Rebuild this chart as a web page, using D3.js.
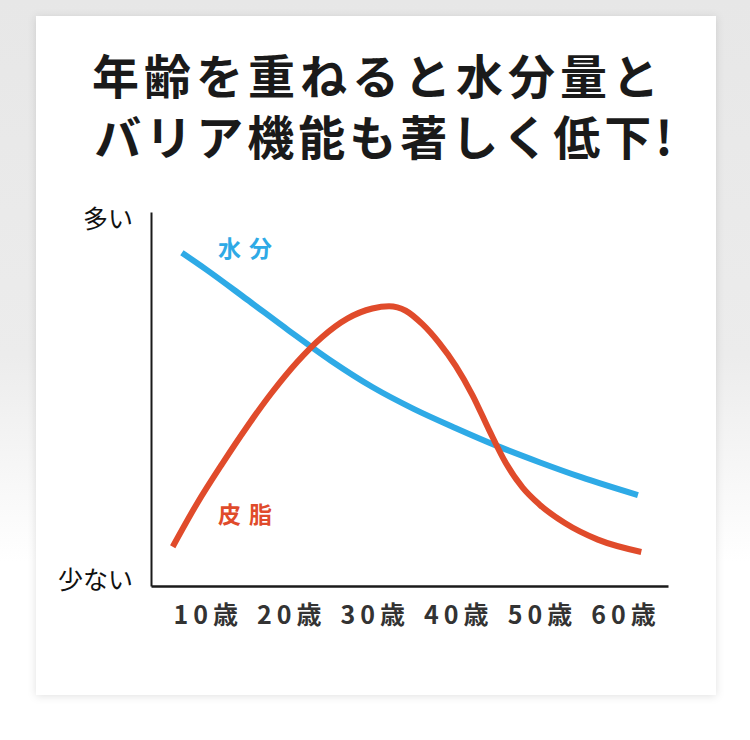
<!DOCTYPE html>
<html lang="ja">
<head>
<meta charset="utf-8">
<script src="https://cdn.jsdelivr.net/npm/d3@7"></script>
<style>
  html, body { margin: 0; padding: 0; background: #fff; }
  svg { display: block; }
  text { font-family: "Noto Sans CJK JP", "Noto Sans", sans-serif; }
</style>
</head>
<body>
<div id="chart"></div>
<script>
// title lines
const titleLines = ["年齢を重ねると水分量と", "バリア機能も著しく低下!"];

// x categories (age)
const ageTicks = [10, 20, 30, 40, 50, 60];
const ageSuffix = "歳";

// y axis end labels
const levelTicks = [1.5, 98];
const levelLabels = ["少ない", "多い"];

// 水分 (moisture) curve
const waterAges   = [7.2, 10, 15, 20, 25, 30, 35, 40, 45, 50, 55, 61.8];
const waterValues = [89.1, 84.8, 76.6, 68.3, 60.3, 53.2, 47.3, 42.2, 37.4, 33.1, 29.1, 24.3];

// 皮脂 (sebum) curve
const sebumAges   = [6.1, 9, 12, 15, 18, 21, 24, 27, 30, 32, 34, 36, 38, 40, 42, 44, 46, 48, 50, 53, 57, 62.2];
const sebumValues = [10.5, 22.0, 32.6, 42.6, 51.8, 59.9, 66.6, 71.5, 74.2, 74.8, 73.6, 70.0, 65.0, 58.8, 51.0, 41.6, 32.8, 26.3, 21.8, 16.9, 12.4, 9.1];

const seriesNames = ["水分", "皮脂"];

const W = 750, H = 740;
const blue = "#2eaae6", red = "#e04b2b";

const svg = d3.select("#chart").append("svg").attr("width", W).attr("height", H);
const defs = svg.append("defs");

const bg = defs.append("linearGradient").attr("id", "bg").attr("x1", 0).attr("y1", 0).attr("x2", 0).attr("y2", 1);
bg.append("stop").attr("offset", "0%").attr("stop-color", "#e7e7e7");
bg.append("stop").attr("offset", "48%").attr("stop-color", "#ececec");
bg.append("stop").attr("offset", "76%").attr("stop-color", "#ffffff");
bg.append("stop").attr("offset", "100%").attr("stop-color", "#ffffff");

const shadow = defs.append("filter").attr("id", "shadow").attr("x", "-5%").attr("y", "-5%").attr("width", "110%").attr("height", "110%");
shadow.append("feDropShadow").attr("dx", 0).attr("dy", 1).attr("stdDeviation", 4)
  .attr("flood-color", "#000").attr("flood-opacity", 0.12);

svg.append("rect").attr("width", W).attr("height", H).attr("fill", "url(#bg)");
svg.append("rect").attr("x", 36).attr("y", 16).attr("width", 680).attr("height", 679)
  .attr("fill", "#fff").attr("filter", "url(#shadow)");

// title: one text block, one tspan per line
const title = svg.append("text")
  .attr("text-anchor", "middle")
  .attr("font-size", 47)
  .attr("font-weight", 700)
  .attr("fill", "#1a1a1a");
title.selectAll("tspan")
  .data(titleLines)
  .enter().append("tspan")
    .attr("x", (d, i) => i == 0 ? 378 : 385.5)
    .attr("y", (d, i) => 94 + i * 61)
    .attr("letter-spacing", (d, i) => i == 0 ? "5px" : "4px")
    .text(d => d);

const x = d3.scaleLinear().domain([3.5, 65.4]).range([151, 668]);
const y = d3.scaleLinear().domain([0, 100]).range([586, 212]);

// x axis
const xAxis = svg.append("g")
  .attr("transform", "translate(0," + y(0) + ")")
  .call(d3.axisBottom(x).tickValues(ageTicks).tickFormat(d => d + ageSuffix).tickSize(0).tickSizeOuter(0).tickPadding(20));
xAxis.select(".domain").attr("stroke", "#1a1a1a").attr("stroke-width", 2.4);
xAxis.selectAll("text")
  .attr("font-family", "\"Noto Sans CJK JP\", sans-serif")
  .attr("font-size", 25)
  .attr("font-weight", 700)
  .attr("letter-spacing", "5px")
  .attr("dx", "2.5px")
  .attr("fill", "#333");

// y axis
const yAxis = svg.append("g")
  .attr("transform", "translate(" + x(3.5) + ",0)")
  .call(d3.axisLeft(y).tickValues(levelTicks).tickFormat((d, i) => levelLabels[i]).tickSize(0).tickSizeOuter(0).tickPadding(18));
yAxis.select(".domain").attr("stroke", "#1a1a1a").attr("stroke-width", 2);
yAxis.selectAll("text")
  .attr("font-family", "\"Noto Sans CJK JP\", sans-serif")
  .attr("font-size", 25)
  .attr("font-weight", 400)
  .attr("fill", "#111");

const line = d3.line()
  .x(d => x(d[0]))
  .y(d => y(d[1]))
  .curve(d3.curveMonotoneX);

svg.append("path")
  .datum(d3.zip(waterAges, waterValues))
  .attr("d", line)
  .attr("fill", "none")
  .attr("stroke", blue)
  .attr("stroke-width", 6);

svg.append("path")
  .datum(d3.zip(sebumAges, sebumValues))
  .attr("d", line)
  .attr("fill", "none")
  .attr("stroke", red)
  .attr("stroke-width", 6);

// series labels
svg.append("text")
  .attr("x", 218).attr("y", 257)
  .attr("font-size", 23).attr("font-weight", 700)
  .attr("letter-spacing", "8px")
  .attr("fill", blue)
  .text(seriesNames[0]);

svg.append("text")
  .attr("x", 218).attr("y", 523)
  .attr("font-size", 23).attr("font-weight", 700)
  .attr("letter-spacing", "8px")
  .attr("fill", red)
  .text(seriesNames[1]);
</script>
</body>
</html>
